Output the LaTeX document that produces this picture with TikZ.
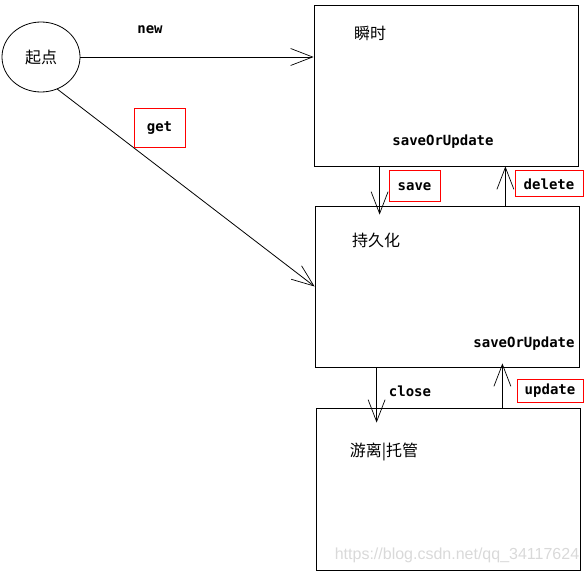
\documentclass[tikz,border=0pt]{standalone}
\usepackage{fontspec}
\setmonofont{DejaVu Sans Mono}
\newfontfamily\cjk{Noto Sans CJK SC}
\newfontfamily\wmfont{Liberation Sans}
\usetikzlibrary{arrows.meta,shapes.geometric}

\begin{document}
\begin{tikzpicture}[x=1pt,y=-1pt,line width=0.8pt,
   state/.style={draw,rectangle,minimum width=264pt,minimum height=161pt,inner sep=0pt},
   cn/.style={font=\cjk\fontsize{16}{18}\selectfont},
   cmd/.style={font=\ttfamily\bfseries\fontsize{14}{16}\selectfont,inner sep=0pt},
   redbox/.style n args={2}{cmd,draw=red,line width=1pt,minimum width=#1pt,minimum height=#2pt},
   trans/.style={-{Straight Barb[length=22pt,width=17pt,line width=0.7pt]}}]
\useasboundingbox (0,0) rectangle (587,575);
\node[draw,ellipse,minimum width=78pt,minimum height=70pt,inner sep=0pt,cn] (start) at (41,57) {起点};
\node[state] (transient) at (446,85.5) {};
\node[state] (persistent) at (447,286.5) {};
\node[state,minimum height=162pt] (detached) at (448,489) {};
% state names
\node[cn] (transientname) at (370,33) {瞬时};
\node[cn] (persistentname) at (376,240) {持久化};
\node[cn] (detachedname) at (384,452) {游离|托管};
\node[cmd] (sou1) at (443,142) {saveOrUpdate};
\node[cmd] (sou2) at (524,344) {saveOrUpdate};
% transitions
\draw[trans] (start.east) -- (start.east -| transient.west);
\draw[trans] (start.-63) -- (persistent.west);
\draw[trans,shorten >=-9pt] ([xshift=66pt]transient.south west) -- ([xshift=66pt]transient.south west |- persistent.north);
\draw[trans] ([xshift=-74pt]persistent.north east) -- ([xshift=-74pt]persistent.north east |- transient.south);
\draw[trans,shorten >=-15pt] ([xshift=62pt]persistent.south west) -- ([xshift=62pt]persistent.south west |- detached.north);
\draw[trans,shorten >=-4pt] ([xshift=-78pt]detached.north east) -- ([xshift=-78pt]detached.north east |- persistent.south);
% labels
\node[cmd] (newlbl) at (150,30) {new};
\node[redbox={51}{39}] (getlbl) at (159.5,128.5) {get};
\node[redbox={51}{31}] (savelbl) at (414.5,186.5) {save};
\node[redbox={68}{26}] (deletelbl) at (549,184) {delete};
\node[cmd] (closelbl) at (410,391) {close};
\node[redbox={66}{23}] (updatelbl) at (550,390.5) {update};
\node[font=\wmfont\fontsize{16}{18}\selectfont,text=black!15] (wm) at (457,555) {https://blog.csdn.net/qq\_34117624};
\end{tikzpicture}
\end{document}
